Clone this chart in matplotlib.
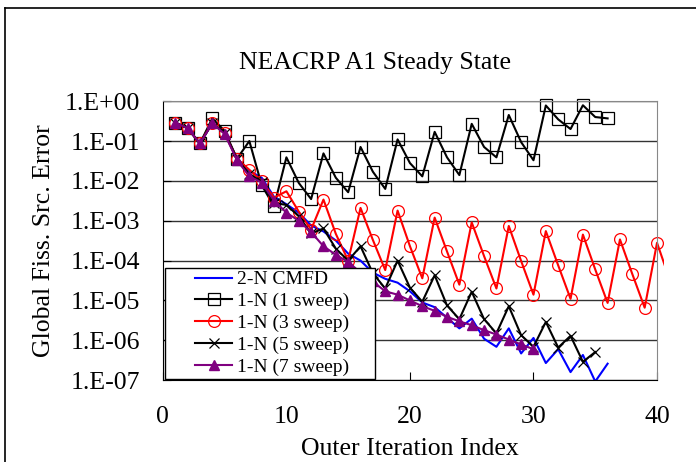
import matplotlib
matplotlib.use("Agg")
import matplotlib.pyplot as plt
from matplotlib.lines import Line2D
from matplotlib.patches import Rectangle
from matplotlib.transforms import Bbox, TransformedBbox, IdentityTransform

plt.rcParams['font.family'] = ['Liberation Serif', 'DejaVu Serif']

cmfd = [0.29, 0.21, 0.087, 0.28, 0.158, 0.037, 0.018, 0.012, 0.0040, 0.0026,
        0.0016, 7.6e-4, 5.4e-4, 3.2e-4, 1.5e-4, 1.0e-4, 5.0e-5, 3.5e-5, 2.8e-5, 1.7e-5,
        8.9e-6, 6.8e-6, 3.7e-6, 2.0e-6, 3.5e-6, 1.1e-6, 6.9e-7, 2.0e-6, 4.7e-7, 1.15e-6,
        2.7e-7, 6.0e-7, 1.6e-7, 4.3e-7, 9.3e-8, 2.6e-7]
sweep1 = [0.29, 0.21, 0.087, 0.37, 0.18, 0.036, 0.10, 0.0078, 0.0023, 0.039,
          0.0089, 0.0035, 0.049, 0.012, 0.0052, 0.071, 0.017, 0.0063, 0.11, 0.028,
          0.013, 0.17, 0.039, 0.014, 0.27, 0.071, 0.039, 0.45, 0.094, 0.033,
          0.78, 0.35, 0.20, 0.79, 0.40, 0.37]
sweep3 = [0.29, 0.21, 0.087, 0.29, 0.155, 0.036, 0.019, 0.0099, 0.0038, 0.0055,
          0.0017, 6.0e-4, 0.0034, 4.7e-4, 1.0e-4, 0.0021, 3.3e-4, 5.8e-5, 0.0018, 2.3e-4,
          3.6e-5, 0.0012, 1.7e-4, 2.5e-5, 9.1e-4, 1.3e-4, 2.0e-5, 7.4e-4, 9.8e-5, 1.4e-5,
          5.5e-4, 7.6e-5, 1.1e-5, 4.5e-4, 6.0e-5, 8.7e-6, 3.4e-4, 4.6e-5, 6.6e-6, 2.8e-4,
          3.5e-5]
sweep5 = [0.29, 0.21, 0.087, 0.28, 0.16, 0.035, 0.015, 0.0095, 0.0028, 0.0025,
          0.0013, 4.8e-4, 6.4e-4, 2.0e-4, 1.0e-4, 2.3e-4, 4.8e-5, 2.0e-5, 1.0e-4, 2.1e-5,
          9.3e-6, 4.3e-5, 7.5e-6, 3.4e-6, 1.66e-5, 3.4e-6, 1.5e-6, 7.2e-6, 1.35e-6, 6.9e-7,
          2.9e-6, 6.6e-7, 1.3e-6, 2.9e-7, 5.1e-7]
sweep7 = [0.29, 0.21, 0.087, 0.28, 0.15, 0.033, 0.013, 0.0091, 0.0032, 0.0016,
          0.0010, 5.2e-4, 2.3e-4, 1.4e-4, 9.3e-5, 5.0e-5, 3.0e-5, 1.7e-5, 1.4e-5, 1.0e-5,
          7.2e-6, 5.5e-6, 3.9e-6, 3.0e-6, 2.4e-6, 1.8e-6, 1.4e-6, 1.05e-6, 7.9e-7, 6.0e-7]

yticks = [1e0, 1e-1, 1e-2, 1e-3, 1e-4, 1e-5, 1e-6, 1e-7]
ytick_labels = ["1.E+00", "1.E-01", "1.E-02", "1.E-03", "1.E-04", "1.E-05", "1.E-06", "1.E-07"]
xticks = [0, 10, 20, 30, 40]

def idx(v):
    return list(range(1, len(v) + 1))

fig = plt.figure(figsize=(6.96, 4.62), dpi=100)
ax = fig.add_axes([0.234, 0.177, 0.71, 0.604])

ax.plot(idx(cmfd), cmfd, color='#0000ff', lw=1.5, label='2-N CMFD')
ax.plot(idx(sweep1), sweep1, color='black', lw=1.5, marker='s', ms=8.5,
        mfc='none', mec='black', mew=0.9, clip_on=False, label='1-N (1 sweep)')
red, = ax.plot(idx(sweep3), sweep3, color='#ff0000', lw=1.5, marker='o', ms=8.5,
               mfc='none', mec='#ff0000', mew=0.9, markevery=list(range(40)),
               label='1-N (3 sweep)')
ax.plot(idx(sweep5), sweep5, color='black', lw=1.5, marker='x', ms=7,
        mew=0.9, label='1-N (5 sweep)')
ax.plot(idx(sweep7), sweep7, color='#800080', lw=1.5, marker='^', ms=7,
        mfc='#800080', mec='#800080', label='1-N (7 sweep)')

ax.set_yscale('log')
ax.set_ylim(1e-7, 1)
ax.set_xlim(0, 40)

# red series runs slightly past the plot area in the original
red.set_clip_box(TransformedBbox(Bbox([[0, 1e-8], [40.6, 2]]), ax.transData))

ax.set_yticks(yticks)
ax.set_yticklabels(ytick_labels)
ax.yaxis.set_minor_locator(matplotlib.ticker.NullLocator())
ax.set_xticks(xticks)
ax.tick_params(axis='both', direction='in', length=6, labelsize=18.5, color='black')
ax.tick_params(axis='y', pad=16.5)
ax.tick_params(axis='x', pad=18.5)
ax.grid(axis='y', color='#333333', lw=1.0)

for s in ['top', 'right']:
    ax.spines[s].set_color('#888888')
ax.spines['left'].set_color('black')
ax.spines['bottom'].set_color('black')

fig.text(375 / 696, 1 - 63 / 462, "NEACRP A1 Steady State", fontsize=18.5,
         ha='center', va='center')
ax.set_xlabel("Outer Iteration Index", fontsize=18.5, labelpad=7)
ax.set_ylabel("Global Fiss. Src. Error", fontsize=18.5, labelpad=7)

leg = ax.legend(loc='lower left', bbox_to_anchor=(0.0597, 0.004), fontsize=14,
                frameon=False, borderaxespad=0, borderpad=0.15,
                handlelength=1.9, handletextpad=0.24, labelspacing=0.22)

# legend box with wider side padding, as in the original
fig.canvas.draw()
bb = leg.get_window_extent(fig.canvas.get_renderer())
ax.add_patch(Rectangle((bb.x0 - 27.5, bb.y0), bb.width + 50, bb.height,
                       transform=IdentityTransform(), facecolor='white',
                       edgecolor='black', lw=1.0, clip_on=False, zorder=4.9))

# outer chart frame
fig.add_artist(Line2D([5 / 696, 5 / 696], [0, 1 - 8 / 462], color='black', lw=1.2))
fig.add_artist(Line2D([5 / 696, 1], [1 - 8 / 462, 1 - 8 / 462], color='black', lw=1.2))

fig.savefig("out.png", dpi=100)
